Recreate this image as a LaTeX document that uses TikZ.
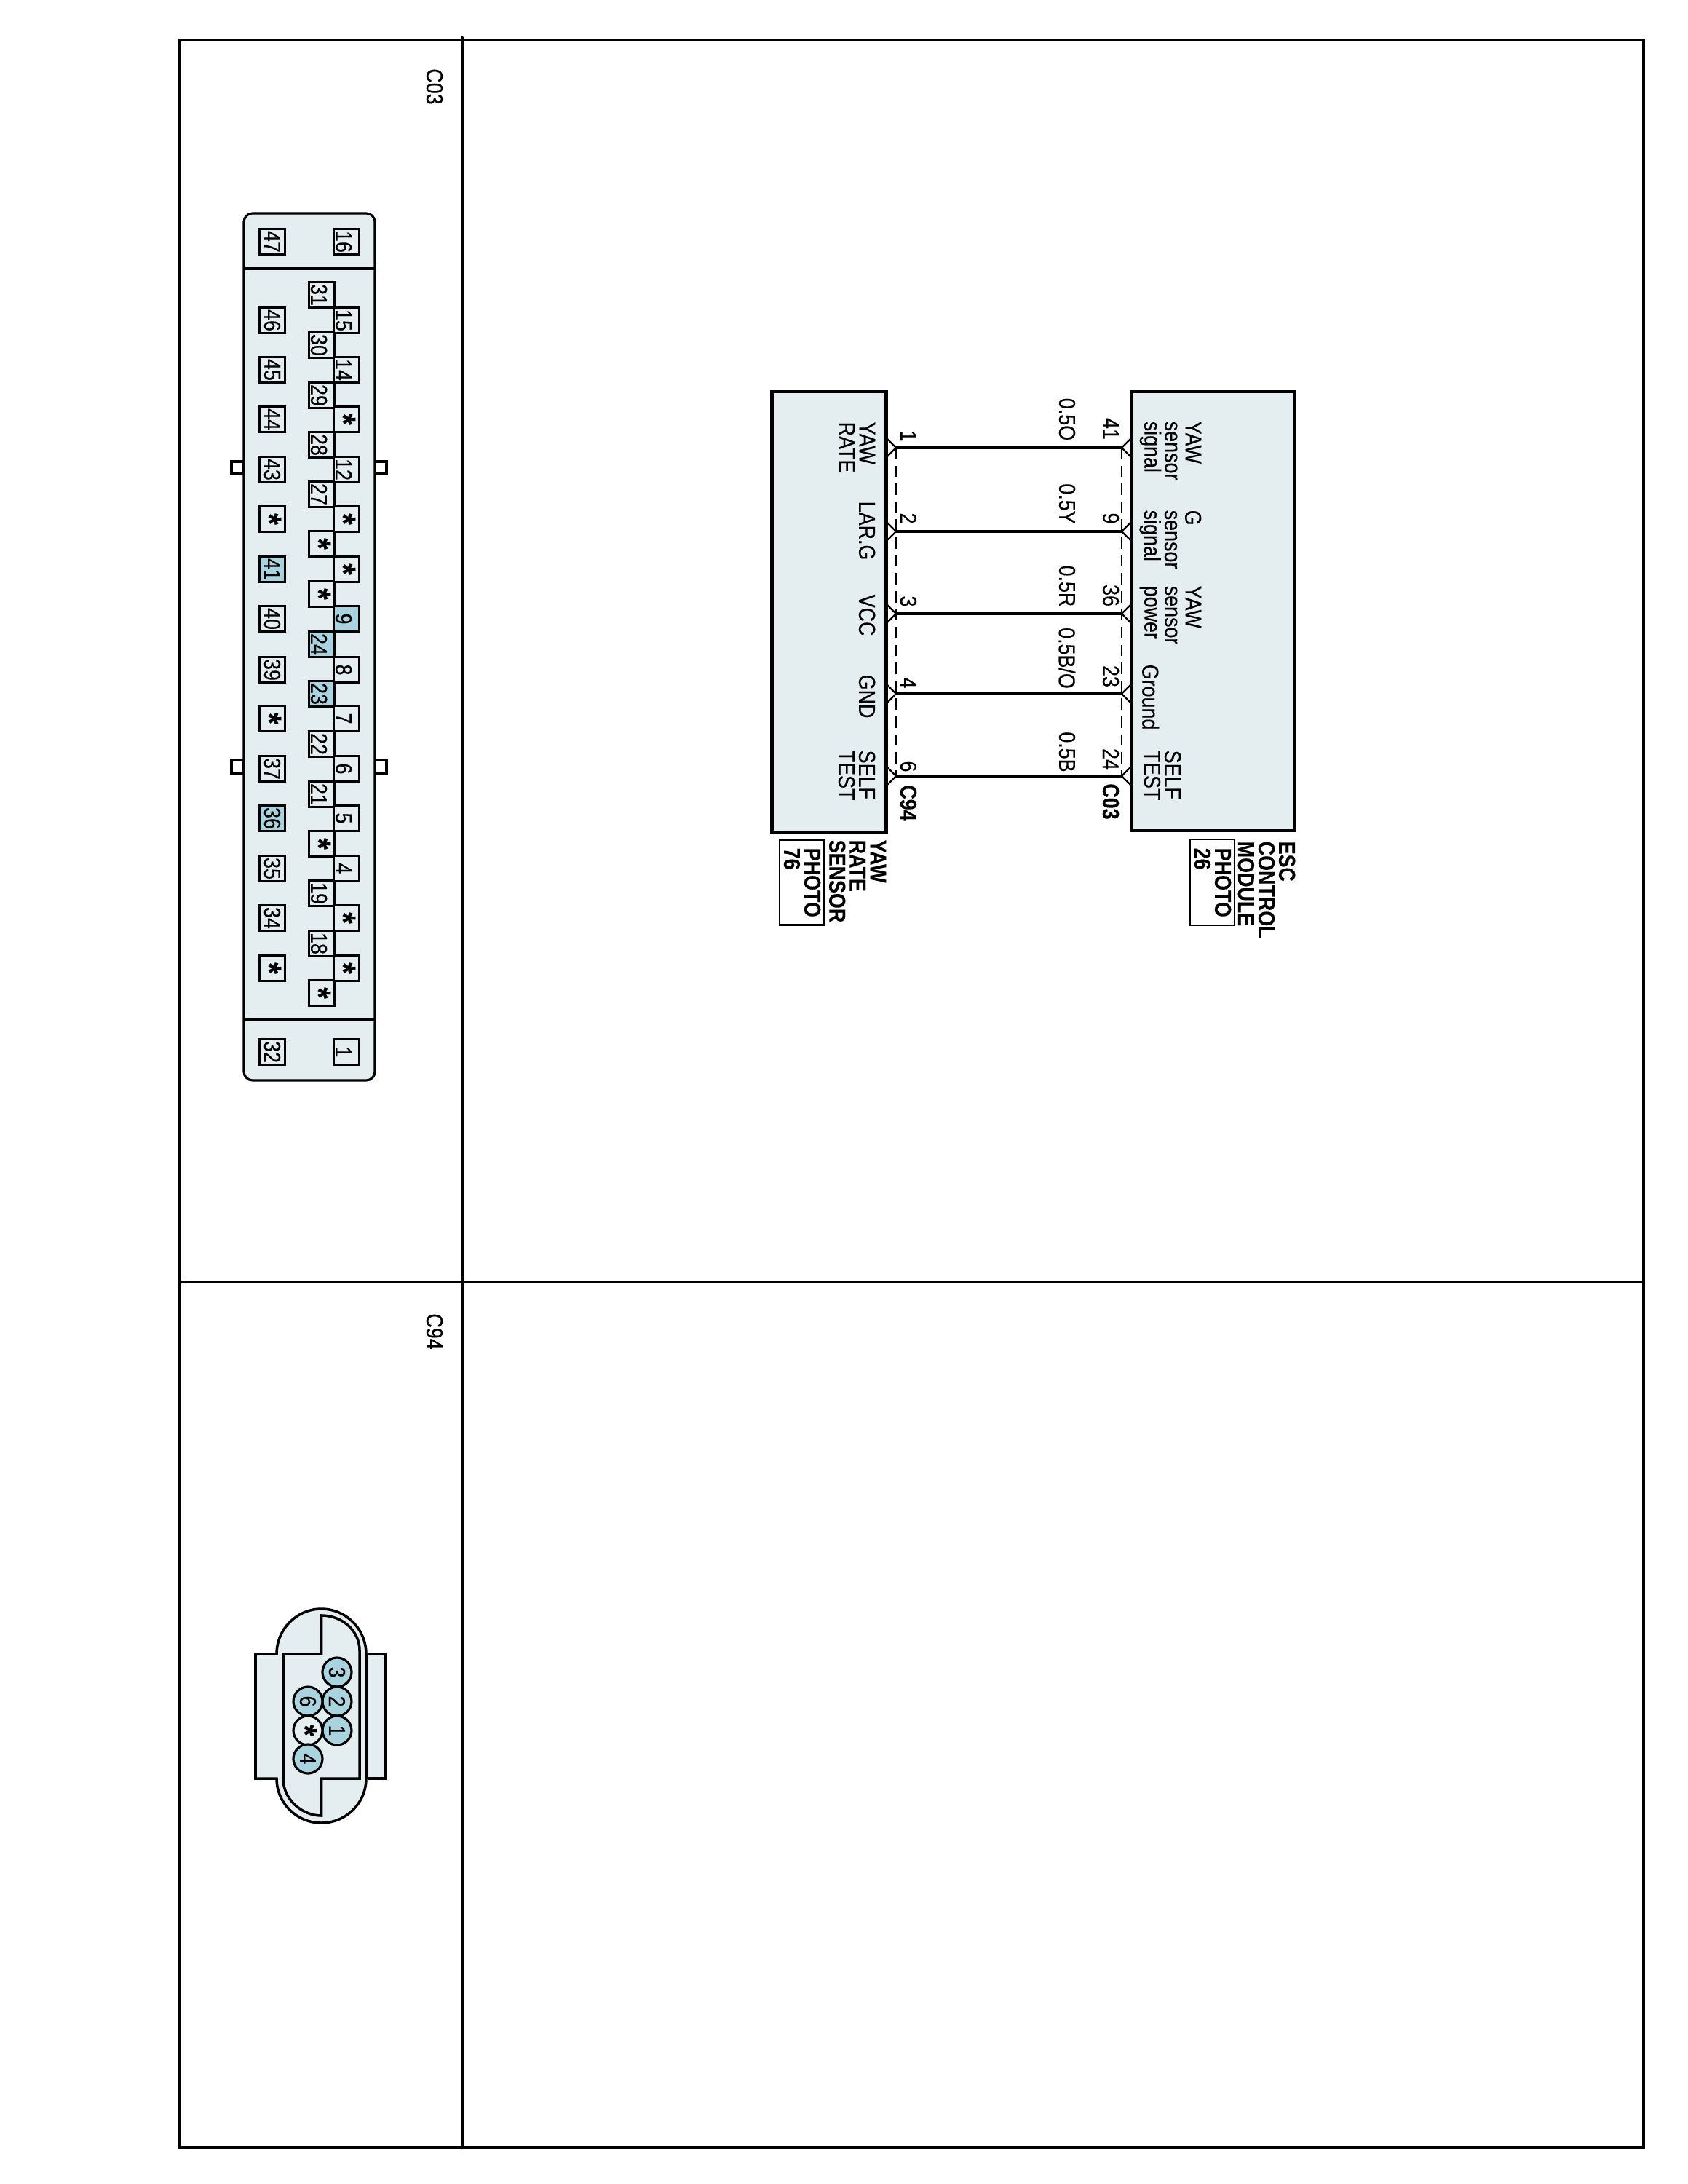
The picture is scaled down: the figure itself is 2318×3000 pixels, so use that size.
\documentclass[tikz,border=0pt]{standalone}
\usepackage{fontspec}
\setmainfont[FakeStretch=0.85,FakeBold=0.25]{Liberation Sans}
\usepackage{tikz}
\definecolor{bodyfill}{HTML}{E4EDEF}
\definecolor{pinhit}{HTML}{A9D3DF}
\newcommand{\starpin}{\raisebox{-0.645em}[0pt][0pt]{\bfseries\fontsize{13.5}{13.5}\selectfont *}}

\begin{document}
\begin{tikzpicture}[x=0.1mm,y=-0.1mm]
  \tikzstyle{frameline}=[line width=1.25pt,line cap=round]
  \tikzstyle{txt}=[rotate=-90,inner sep=0pt,align=left,anchor=north west,font=\fontsize{9}{8}\selectfont]
  \tikzstyle{tag}=[rotate=-90,inner sep=0pt,font=\fontsize{9}{8}\selectfont]
  \tikzstyle{boldtag}=[tag,font=\fontsize{9}{8}\selectfont\bfseries]
  \tikzstyle{boldtxt}=[txt,font=\fontsize{9}{8}\selectfont\bfseries]
  \tikzstyle{pinbox}=[draw,line width=0.9pt,fill=bodyfill,minimum width=3.5mm,minimum height=3.5mm,inner sep=0pt,rotate=-90,font=\fontsize{9}{8}\selectfont]
  \tikzstyle{pinlow}=[pinbox,text height=8.5pt]
  \tikzstyle{hit}=[pinbox,fill=pinhit]
  \tikzstyle{hitlow}=[pinlow,fill=pinhit]
  \tikzstyle{cavity}=[circle,draw,line width=0.9pt,fill=pinhit,minimum width=4mm,inner sep=0pt,rotate=-90,font=\fontsize{9}{8}\selectfont]
  \tikzstyle{module}=[draw,line width=1.4pt,fill=bodyfill,inner sep=0pt]
  \tikzstyle{photo}=[draw,line width=0.75pt,inner sep=0pt]
  \tikzstyle{wire}=[line width=1.15pt]
  \tikzstyle{shield}=[line width=0.65pt,dash pattern=on 4.5pt off 2.5pt]
  \tikzstyle{chevron}=[line width=0.65pt]
  \useasboundingbox (0,0) rectangle (2318,3000);
  % frame
  \coordinate (ftop) at (635,52);
  \coordinate (fbot) at (635,2950);
  \coordinate (fleft) at (247,1761);
  \coordinate (fright) at (2258,1761);
  \draw[frameline] (247,55) rectangle (2258,2950);
  \draw[frameline] (ftop) -- (fbot);
  \draw[frameline] (fleft) -- (fright);
  \node[tag] (c03title) at (597,119) {C03};
  \node[tag] (c94title) at (597,1829) {C94};
  % connector C03
  \draw[line width=0.9pt] (335,634) rectangle (318,651);
  \draw[line width=0.9pt] (515,634) rectangle (531,651);
  \draw[line width=0.9pt] (335,1044) rectangle (318,1062);
  \draw[line width=0.9pt] (515,1044) rectangle (531,1062);
  \draw[line width=0.9pt,fill=bodyfill,rounded corners=3.4pt] (335,293) rectangle (515,1484);
  \draw[line width=0.9pt] (335,369) -- (515,369);
  \draw[line width=0.9pt] (335,1401) -- (515,1401);
  \node[pinbox] (p47) at (374,332) {47};
  \node[pinbox] (p46) at (374,440) {46};
  \node[pinbox] (p45) at (374,508) {45};
  \node[pinbox] (p44) at (374,576) {44};
  \node[pinbox] (p43) at (374,645) {43};
  \node[pinbox] (p42) at (374,713) {\starpin};
  \node[hit] (p41) at (374,782) {41};
  \node[pinbox] (p40) at (374,850) {40};
  \node[pinbox] (p39) at (374,920) {39};
  \node[pinbox] (p38) at (374,987) {\starpin};
  \node[pinbox] (p37) at (374,1056) {37};
  \node[hit] (p36) at (374,1124) {36};
  \node[pinbox] (p35) at (374,1193) {35};
  \node[pinbox] (p34) at (374,1261) {34};
  \node[pinbox] (p33) at (374,1330) {\starpin};
  \node[pinbox] (p32) at (374,1445) {32};
  \node[pinlow] (p31) at (442,405) {31};
  \node[pinlow] (p30) at (442,474) {30};
  \node[pinlow] (p29) at (442,543) {29};
  \node[pinlow] (p28) at (442,611) {28};
  \node[pinlow] (p27) at (442,679) {27};
  \node[pinbox] (p26) at (442,747) {\starpin};
  \node[pinbox] (p25) at (442,816) {\starpin};
  \node[hitlow] (p24) at (442,885) {24};
  \node[hitlow] (p23) at (442,953) {23};
  \node[pinlow] (p22) at (442,1022) {22};
  \node[pinlow] (p21) at (442,1091) {21};
  \node[pinbox] (p20) at (442,1159) {\starpin};
  \node[pinlow] (p19) at (442,1227) {19};
  \node[pinlow] (p18) at (442,1296) {18};
  \node[pinbox] (p17) at (442,1364) {\starpin};
  \node[pinlow] (p16) at (476,332) {16};
  \node[pinlow] (p15) at (476,440) {15};
  \node[pinlow] (p14) at (476,508) {14};
  \node[pinbox] (p13) at (476,576) {\starpin};
  \node[pinlow] (p12) at (476,645) {12};
  \node[pinbox] (p11) at (476,713) {\starpin};
  \node[pinbox] (p10) at (476,782) {\starpin};
  \node[hitlow] (p9) at (476,850) {9};
  \node[pinlow] (p8) at (476,920) {8};
  \node[pinlow] (p7) at (476,987) {7};
  \node[pinlow] (p6) at (476,1056) {6};
  \node[pinlow] (p5) at (476,1124) {5};
  \node[pinlow] (p4) at (476,1193) {4};
  \node[pinbox] (p3) at (476,1261) {\starpin};
  \node[pinbox] (p2) at (476,1330) {\starpin};
  \node[pinlow] (p1) at (476,1445) {1};
  % connector C94
  \draw[line width=1pt,fill=bodyfill] (505,2272) -- (529,2272) -- (529,2443) -- (505,2443);
  \draw[line width=1pt,fill=bodyfill] (380,2272) arc[start angle=180,end angle=0,x radius=61.5,y radius=-62] -- (503,2443) arc[start angle=0,end angle=-180,x radius=61.5,y radius=-61] -- (351,2443) -- (351,2272) -- cycle;
  \draw[line width=1pt,fill=bodyfill] (441.7,2219) -- (441.7,2272) -- (389,2272) -- (389,2443) .. controls (389,2472) and (415,2494) .. (441.7,2494) -- (441.7,2443) -- (494,2443) -- (494,2267) .. controls (494,2240) and (470,2219) .. (441.7,2219) -- cycle;
  \node[cavity] (s3) at (463,2297) {3};
  \node[cavity] (s2) at (463,2337) {2};
  \node[cavity] (s1) at (463,2377) {1};
  \node[cavity] (s6) at (423,2337) {6};
  \node[cavity,fill=bodyfill] (s5) at (423,2377) {\starpin};
  \node[cavity] (s4) at (423,2416) {4};
  % modules
  \node[module,minimum width=15.7mm,minimum height=60.5mm] (yawbox) at (1139,840.5) {};
  \node[module,minimum width=22.3mm,minimum height=60.3mm] (escbox) at (1666.5,839.5) {};
  \coordinate (a1) at (1231,615);
  \coordinate (a2) at (1231,730);
  \coordinate (a3) at (1231,843);
  \coordinate (a4) at (1231,953);
  \coordinate (a6) at (1231,1066);
  \coordinate (b41) at (1541,615);
  \coordinate (b9) at (1541,730);
  \coordinate (b36) at (1541,843);
  \coordinate (b23) at (1541,953);
  \coordinate (b24) at (1541,1066);
  \draw[wire] (a1) -- (b41);
  \draw[wire] (a2) -- (b9);
  \draw[wire] (a3) -- (b36);
  \draw[wire] (a4) -- (b23);
  \draw[wire] (a6) -- (b24);
  \draw[shield] (a1) -- (a6);
  \draw[shield] (b41) -- (b24);
  \draw[chevron] (a1) +(-14,-14) -- (a1) -- +(-14,14);
  \draw[chevron] (a2) +(-14,-14) -- (a2) -- +(-14,14);
  \draw[chevron] (a3) +(-14,-14) -- (a3) -- +(-14,14);
  \draw[chevron] (a4) +(-14,-14) -- (a4) -- +(-14,14);
  \draw[chevron] (a6) +(-14,-14) -- (a6) -- +(-14,14);
  \draw[chevron] (b41) +(14,-14) -- (b41) -- +(14,14);
  \draw[chevron] (b9) +(14,-14) -- (b9) -- +(14,14);
  \draw[chevron] (b36) +(14,-14) -- (b36) -- +(14,14);
  \draw[chevron] (b23) +(14,-14) -- (b23) -- +(14,14);
  \draw[chevron] (b24) +(14,-14) -- (b24) -- +(14,14);
  % pin numbers
  \node[tag] (n1) at (1248,599) {1};
  \node[tag] (n2) at (1248,712) {2};
  \node[tag] (n3) at (1248,826) {3};
  \node[tag] (n4) at (1248,938) {4};
  \node[tag] (n6) at (1248,1053) {6};
  \node[boldtag] (nc94) at (1248,1103) {C94};
  \node[tag] (n41) at (1526,589) {41};
  \node[tag] (n9) at (1526,712) {9};
  \node[tag] (n36) at (1526,818) {36};
  \node[tag] (n23) at (1526,929) {23};
  \node[tag] (n24) at (1526,1043) {24};
  \node[boldtag] (nc03) at (1526,1101) {C03};
  % wire sizes
  \node[tag] (w1) at (1466,576) {0.5O};
  \node[tag] (w2) at (1466,692) {0.5Y};
  \node[tag] (w3) at (1466,805) {0.5R};
  \node[tag] (w4) at (1466,904) {0.5B/O};
  \node[tag] (w5) at (1466,1033) {0.5B};
  % pin names
  \node[txt] (t1) at (1203,579) {YAW\\RATE};
  \node[txt] (t2) at (1203,688) {LAR.G};
  \node[txt] (t3) at (1203,816) {VCC};
  \node[txt] (t4) at (1203,926) {GND};
  \node[txt] (t6) at (1203,1030) {SELF\\TEST};
  \node[txt] (t41) at (1651,578) {YAW\\sensor\\signal};
  \node[txt] (t9) at (1651,700) {G\\sensor\\signal};
  \node[txt] (t36) at (1651,804) {YAW\\sensor\\power};
  \node[txt] (t23) at (1593,912) {Ground};
  \node[txt] (t24) at (1623,1030) {SELF\\TEST};
  % component names
  \node[boldtxt] (yawname) at (1218,1153) {YAW\\RATE\\SENSOR};
  \node[boldtxt] (escname) at (1780,1155) {ESC\\CONTROL\\MODULE};
  \node[photo,minimum width=6.1mm,minimum height=11.7mm] (yawphoto) at (1101.5,1212) {};
  \node[photo,minimum width=6.1mm,minimum height=11.8mm] (escphoto) at (1665.5,1212) {};
  \node[boldtxt] (yawphototxt) at (1128,1164) {PHOTO\\76};
  \node[boldtxt] (escphototxt) at (1692,1164) {PHOTO\\26};
\end{tikzpicture}
\end{document}
